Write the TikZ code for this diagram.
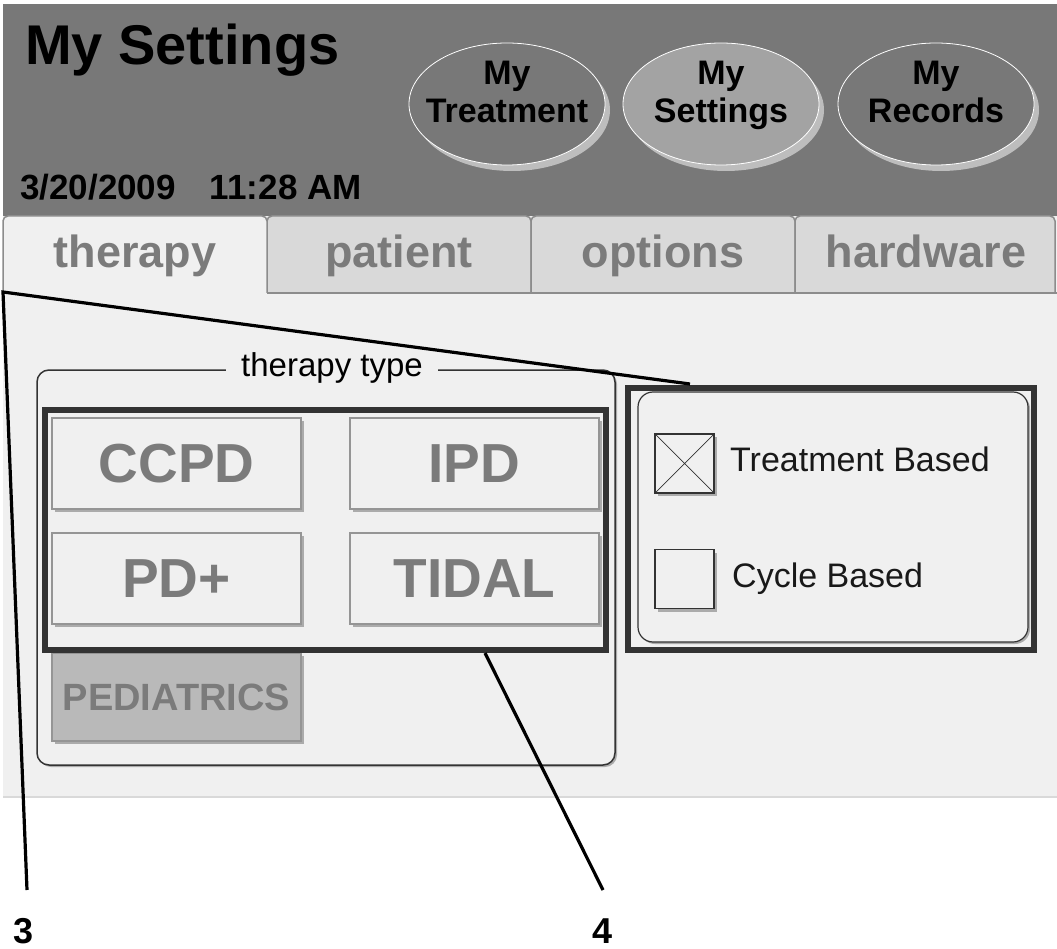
\documentclass[tikz,border=0pt]{standalone}
\usepackage{fontspec}
\setmainfont{Liberation Sans}
\usetikzlibrary{shapes.geometric,shadows}
\definecolor{hdr}{HTML}{787878}
\definecolor{panel}{HTML}{F0F0F0}
\definecolor{tabin}{HTML}{D9D9D9}
\definecolor{tabline}{HTML}{8C8C8C}
\definecolor{tabtxt}{HTML}{7B7B7B}
\definecolor{sel}{HTML}{A3A3A3}
\definecolor{shade}{HTML}{BDBDBD}
\definecolor{btnshade}{HTML}{ABABAB}
\definecolor{hl}{HTML}{333333}
\definecolor{btnline}{HTML}{959595}
\definecolor{ped}{HTML}{B9B9B9}
\definecolor{bline}{HTML}{D9D9D9}
\newcommand\myfs[2]{\fontsize{#1pt}{#2pt}\selectfont}
\begin{document}
\begin{tikzpicture}[x=1pt,y=-1pt,
  tabedge/.style={draw=tabline, line width=1.5pt, rounded corners=5pt},
  tabtext/.style={anchor=base, inner sep=0pt, text=tabtxt, font=\bfseries\myfs{45}{50}},
  navbtn/.style={ellipse, draw=white, line width=0.8pt, minimum width=196pt, minimum height=122pt, inner sep=0pt,
    drop shadow={shadow xshift=5pt, shadow yshift=-6pt, fill=shade, opacity=1}},
  navtxt/.style={align=center, inner sep=0pt, font=\bfseries\myfs{34}{38}},
  grpbox/.style={draw=hl, line width=1.5pt, rounded corners=12pt, fill=panel, inner sep=0pt,
    drop shadow={shadow xshift=2pt, shadow yshift=-2pt, fill=btnshade, opacity=1}},
  grplabel/.style={anchor=base, fill=panel, inner xsep=15pt, inner ysep=2pt, font=\myfs{33}{36}},
  btn/.style={draw=btnline, fill=panel, line width=1.5pt, minimum width=249pt, minimum height=91pt, inner sep=0pt,
    text=tabtxt, font=\bfseries\myfs{55}{60},
    drop shadow={shadow xshift=3pt, shadow yshift=-3pt, fill=btnshade, opacity=1}},
  hlbox/.style={draw=hl, line width=6pt, inner sep=0pt},
  cbox/.style={draw=hl, fill=panel, line width=1.3pt, minimum size=59pt, inner sep=0pt,
    drop shadow={shadow xshift=3pt, shadow yshift=-3pt, fill=btnshade, opacity=1}},
  cbtext/.style={anchor=base west, inner sep=0pt, text=black!90, font=\myfs{34}{36}},
  callout/.style={anchor=base, inner sep=0pt, font=\bfseries\myfs{36}{40}},
  leader/.style={draw=black, line width=3.2pt}]
\useasboundingbox (0,0) rectangle (1057,949);
\fill[white] (0,0) rectangle (1057,949);
% body panel
\fill[panel] (3,216) rectangle (1057,797);
\draw[bline, line width=2pt] (3,797) -- (1057,797);
% header
\fill[hdr] (3,4) rectangle (1057,216);
\node[anchor=base west, inner sep=0pt, font=\bfseries\myfs{56}{60}] (title) at (25,65) {My Settings};
\node[anchor=base west, inner sep=0pt, font=\bfseries\myfs{35}{38}] (date) at (20,200) {3/20/2009\hspace{34pt}11:28 AM};
% nav buttons
\node[navbtn, fill=hdr] (navT) at (507,104) {};
\node[navbtn, fill=sel] (navS) at (721,104) {};
\node[navbtn, fill=hdr] (navR) at (936,104) {};
\node[navtxt] (navTt) at ([yshift=9pt]navT.center) {My\\Treatment\vphantom{g}};
\node[navtxt] (navSt) at ([yshift=9pt]navS.center) {My\\Settings\vphantom{g}};
\node[navtxt] (navRt) at ([yshift=9pt]navR.center) {My\\Records\vphantom{g}};
% tabs
\filldraw[tabedge, fill=tabin] (267,293) -- (267,216) -- (531,216) -- (531,293);
\filldraw[tabedge, fill=tabin] (531,293) -- (531,216) -- (795,216) -- (795,293);
\filldraw[tabedge, fill=tabin] (795,293) -- (795,216) -- (1055,216) -- (1055,293);
\filldraw[tabedge, fill=panel] (3,297) -- (3,216) -- (267,216) -- (267,293);
\draw[tabline, line width=1.5pt] (267,293) -- (1057,293);
\node[tabtext] (tTher) at (135,268) {therapy};
\node[tabtext] (tPat) at (399,268) {patient};
\node[tabtext] (tOpt) at (663,268) {options};
\node[tabtext] (tHw) at (926,268) {hardware};
% therapy type group
\node[grpbox, minimum width=578pt, minimum height=395pt] (grp) at (326,567.5) {};
\node[grplabel] (grpl) at (332,377) {therapy type};
\node[btn] (ccpd) at (176.5,463.5) {CCPD};
\node[btn] (ipd) at (474.5,463.5) {IPD};
\node[btn] (pdp) at (176.5,578.5) {PD+};
\node[btn] (tidal) at (474.5,578.5) {TIDAL};
\node[btn, fill=ped, minimum height=88pt, font=\bfseries\myfs{38}{40}] (ped) at (176.5,697) {PEDIATRICS};
\node[hlbox, minimum width=561pt, minimum height=240pt] (hl1) at (325.5,530) {};
% right panel
\node[grpbox, rounded corners=15pt, line width=1.2pt, minimum width=390pt, minimum height=250pt] (opt) at (833,517) {};
\node[cbox] (cb1) at (684.5,463.5) {};
\draw[hl, line width=0.7pt] (cb1.north west) -- (cb1.south east) (cb1.north east) -- (cb1.south west);
\node[cbox] (cb2) at (684.5,579) {};
\node[cbtext] (tb) at (730,471) {Treatment Based};
\node[cbtext] (cyc) at (732,587) {Cycle Based};
\node[hlbox, minimum width=406pt, minimum height=262pt] (hl2) at (831,519) {};
% callouts
\coordinate (k3) at (3,292);
\coordinate (e3) at (690,384);
\coordinate (b3) at (27,890);
\coordinate (e4) at (485,653);
\coordinate (b4) at (603,890);
\node[callout] (n3) at (24,943) {3};
\node[callout] (n4) at (603,943) {4};
\draw[leader] (b3) -- (k3) -- (e3);
\draw[leader] (b4) -- (e4);
\end{tikzpicture}
\end{document}
